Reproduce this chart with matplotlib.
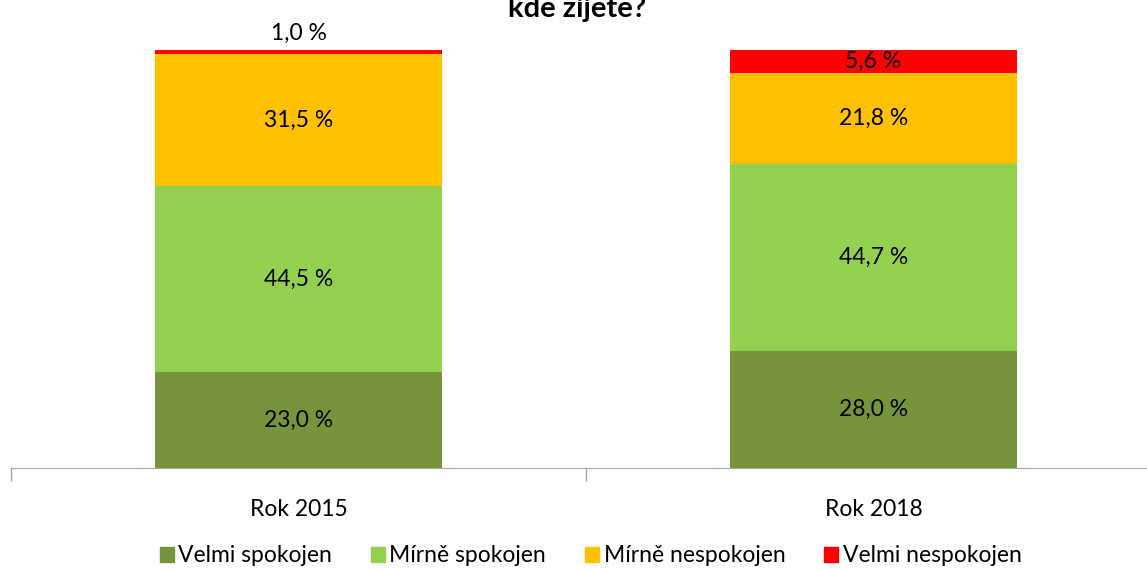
import matplotlib.pyplot as plt
from matplotlib.patches import Patch

plt.rcParams['font.family'] = ['Lato', 'DejaVu Sans']

years = ["Rok 2015", "Rok 2018"]
series = ["Velmi spokojen", "Mírně spokojen", "Mírně nespokojen", "Velmi nespokojen"]
velmi_spokojen = [23.0, 28.0]
mirne_spokojen = [44.5, 44.7]
mirne_nespokojen = [31.5, 21.8]
velmi_nespokojen = [1.0, 5.6]
colors = ["#77933C", "#92D050", "#FFC000", "#FF0000"]

values = [velmi_spokojen, mirne_spokojen, mirne_nespokojen, velmi_nespokojen]

fig = plt.figure(figsize=(11.47, 5.7), dpi=100)
ax = fig.add_axes([11 / 1147, 1 - 468 / 570, 1150 / 1147, 418 / 570])

x = list(range(len(years)))
bottom = [0.0] * len(years)
for name, vals, col in zip(series, values, colors):
    ax.bar(x, vals, 0.5, bottom=bottom, color=col, label=name)
    for i, v in enumerate(vals):
        if v < 3:
            # too thin, label goes above the bar
            ax.text(x[i], bottom[i] + v + 4, f"{v:.1f} %".replace(".", ","),
                    ha="center", va="center", fontsize=16.5)
        else:
            ax.text(x[i], bottom[i] + v / 2, f"{v:.1f} %".replace(".", ","),
                    ha="center", va="center", fontsize=16.5)
    bottom = [b + v for b, v in zip(bottom, vals)]

ax.set_xlim(-0.5, 1.5)
ax.set_ylim(0, 100)
ax.set_xticks(x)
ax.set_xticklabels(years, fontsize=16.5)
ax.set_xticks([-0.5, 0.5, 1.5], minor=True)
ax.tick_params(axis="x", which="major", length=0, pad=22)
ax.tick_params(axis="x", which="minor", length=9, color="#A6A6A6", width=1)
ax.set_yticks([])
for s in ["top", "left", "right"]:
    ax.spines[s].set_visible(False)
ax.spines["bottom"].set_color("#A6A6A6")

fig.text(577 / 1147, 1 - 9 / 570, "kde žijete?", ha="center", va="center",
         fontsize=21, fontweight="bold")

handles = [Patch(color=c, label=n) for n, c in zip(series, colors)]
fig.legend(handles=handles, loc="center", bbox_to_anchor=(0.515, 1 - 556 / 570),
           ncol=4, frameon=False, fontsize=16.5, handlelength=0.6, handleheight=0.6,
           handletextpad=0.2, columnspacing=1.7)

fig.savefig("out.png", dpi=100)
